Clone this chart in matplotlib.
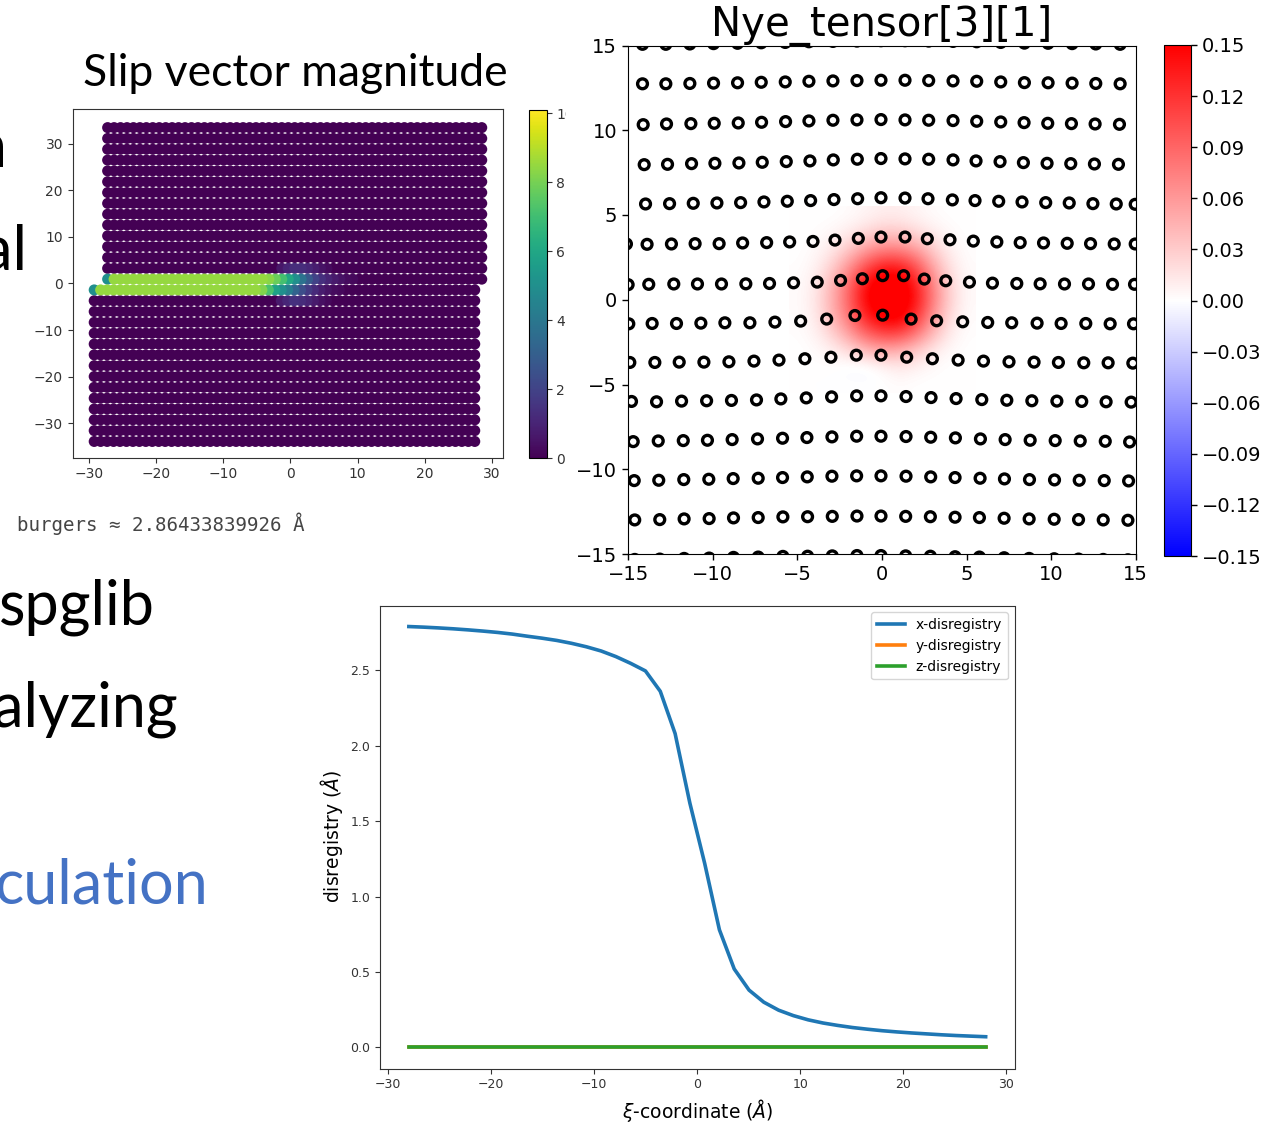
import numpy as np
import matplotlib
matplotlib.use("Agg")
import matplotlib.pyplot as plt
from matplotlib.patches import Rectangle
from matplotlib.cm import ScalarMappable
from matplotlib.colors import Normalize

# ------------------------------------------------------------------
# Slip-vector panel: two half crystals on a rectangular atom grid
# ------------------------------------------------------------------
SLIP_DX = 0.96            # spacing of atom columns
SLIP_DY = 2.32            # spacing of atom rows
SLIP_NROWS = 15
TOP_X_RANGE = (-27.2, 28.5)
TOP_Y_START = 0.93
BOT_X_RANGE = (-29.2, 27.6)
BOT_Y_START = -1.38

# slip magnitude of the atoms just above / below the glide plane (from the left end)
SLIP_UPPER_ROW = [5.0, 8.5, 8.5, 8.5, 8.5, 8.5, 8.5, 8.5, 8.5, 8.5, 8.5, 8.5, 8.5,
                  8.5, 8.5, 8.5, 8.5, 8.5, 8.5, 8.5, 8.5, 8.5, 8.5, 8.5, 8.5,
                  8.3, 7.8, 7.1, 6.0, 5.0, 3.8, 2.8, 2.0, 1.4, 1.0, 0.7, 0.5, 0.3, 0.2]
SLIP_LOWER_ROW = [5.0, 8.5, 8.5, 8.5, 8.5, 8.5, 8.5, 8.5, 8.5, 8.5, 8.5, 8.5, 8.5,
                  8.5, 8.5, 8.5, 8.5, 8.5, 8.5, 8.5, 8.5, 8.5, 8.5, 8.5, 8.5, 8.5,
                  8.2, 7.2, 5.8, 5.0, 4.2, 3.2, 2.4, 1.7, 1.2, 0.8, 0.5, 0.3, 0.2]
# weaker slip on the next rows out, near the dislocation core (start column, values)
SLIP_UPPER_NEXT = (27, [0.6, 1.0, 1.3, 1.3, 1.1, 0.8, 0.5, 0.3])
SLIP_LOWER_NEXT = (29, [0.7, 1.1, 1.4, 1.3, 1.0, 0.7, 0.4, 0.2])
SLIP_CBAR_TICKS = [0, 2, 4, 6, 8, 10]
SLIP_VMAX = 10.1
SLIP_TICKS = [-30, -20, -10, 0, 10, 20, 30]
BURGERS_TEXT = "burgers \u2248 2.86433839926 \u00c5"

# ------------------------------------------------------------------
# Nye tensor panel: atom positions per row (top to bottom)
# ------------------------------------------------------------------
NYE_R1_X = [-14.16, -12.78, -11.36, -9.96, -8.54, -7.14, -5.72, -4.32, -2.90, -1.48, -0.06,
            1.36, 2.76, 4.20, 5.60, 7.02, 8.42, 9.82, 11.24, 12.64, 14.08]
NYE_R0_Y = [15.07, 15.07, 15.09, 15.11, 15.13, 15.16, 15.18, 15.22, 15.24, 15.26, 15.28,
            15.28, 15.26, 15.24, 15.22, 15.18, 15.14, 15.13, 15.11, 15.09, 15.07]
NYE_R1_Y = [12.74, 12.74, 12.76, 12.78, 12.80, 12.83, 12.85, 12.89, 12.91, 12.93, 12.95,
            12.95, 12.93, 12.91, 12.89, 12.85, 12.81, 12.80, 12.78, 12.76, 12.74]
NYE_R2_X = [-14.12, -12.74, -11.30, -9.92, -8.50, -7.12, -5.70, -4.32, -2.90, -1.48, -0.06,
            1.36, 2.76, 4.20, 5.60, 7.02, 8.40, 9.80, 11.20, 12.60, 14.04]
NYE_R2_Y = [10.33, 10.37, 10.39, 10.41, 10.43, 10.47, 10.51, 10.55, 10.59, 10.61, 10.63,
            10.61, 10.59, 10.57, 10.53, 10.49, 10.45, 10.41, 10.39, 10.37, 10.35]
NYE_R3_X = [-14.06, -12.68, -11.26, -9.88, -8.46, -7.08, -5.66, -4.26, -2.88, -1.46, -0.06,
            1.36, 2.76, 4.20, 5.56, 6.98, 8.36, 9.76, 11.16, 12.56, 13.98]
NYE_R3_Y = [7.97, 7.99, 8.03, 8.05, 8.07, 8.11, 8.15, 8.19, 8.25, 8.29, 8.33,
            8.31, 8.29, 8.25, 8.19, 8.15, 8.09, 8.05, 8.03, 8.01, 7.99]
NYE_R4_X = [-13.98, -12.56, -11.16, -9.76, -8.36, -6.98, -5.60, -4.22, -2.84, -1.44, -0.06,
            1.36, 2.72, 4.16, 5.50, 6.90, 8.28, 9.68, 11.07, 12.47, 13.85, 14.97]
NYE_R4_Y = [5.65, 5.67, 5.69, 5.71, 5.73, 5.77, 5.81, 5.85, 5.91, 5.96, 6.02,
            6.00, 5.96, 5.89, 5.85, 5.81, 5.77, 5.73, 5.71, 5.67, 5.65, 5.63]
NYE_R5_X = [-15.11, -13.89, -12.45, -11.05, -9.63, -8.24, -6.82, -5.46, -4.08, -2.78, -1.40,
            -0.06, 1.36, 2.68, 4.02, 5.40, 6.79, 8.17, 9.55, 10.95, 12.33, 13.73, 14.97]
NYE_R5_Y = [3.29, 3.27, 3.29, 3.31, 3.31, 3.35, 3.37, 3.41, 3.44, 3.52, 3.62,
            3.70, 3.70, 3.60, 3.54, 3.46, 3.41, 3.37, 3.35, 3.33, 3.31, 3.29, 3.29]
NYE_R6_X = [-15.01, -13.79, -12.31, -10.91, -9.49, -8.05, -6.65, -5.23, -3.83, -2.45, -1.16,
            0.04, 1.28, 2.50, 3.77, 5.17, 6.53, 7.97, 9.35, 10.79, 12.21, 13.63, 14.93]
NYE_R6_Y = [0.89, 0.91, 0.93, 0.93, 0.93, 0.94, 0.96, 1.00, 1.04, 1.14, 1.24,
            1.42, 1.42, 1.22, 1.12, 1.04, 0.98, 0.96, 0.94, 0.93, 0.93, 0.91, 0.91]
NYE_R7_X = [-14.97, -13.59, -12.15, -10.71, -9.29, -7.81, -6.33, -4.81, -3.27, -1.60, 0.04,
            1.72, 3.23, 4.77, 6.25, 7.67, 9.17, 10.59, 12.05, 13.49, 14.87]
NYE_R7_Y = [-1.42, -1.40, -1.40, -1.38, -1.36, -1.36, -1.32, -1.26, -1.14, -0.93, -0.91,
            -1.14, -1.24, -1.30, -1.34, -1.36, -1.38, -1.40, -1.40, -1.42, -1.42]
NYE_R8_X = [-14.91, -13.43, -11.99, -10.53, -9.05, -7.57, -6.09, -4.56, -3.02, -1.52, -0.06,
            1.46, 2.98, 4.50, 6.00, 7.51, 8.99, 10.43, 11.93, 13.37, 14.83]
NYE_R8_Y = [-3.70, -3.70, -3.68, -3.68, -3.66, -3.62, -3.56, -3.48, -3.39, -3.27, -3.27,
            -3.39, -3.48, -3.56, -3.62, -3.66, -3.68, -3.70, -3.72, -3.72, -3.74]
NYE_R9_X = [-14.81, -13.33, -11.85, -10.37, -8.90, -7.42, -5.98, -4.48, -2.98, -1.50, -0.06,
            1.42, 2.90, 4.38, 5.90, 7.38, 8.86, 10.34, 11.81, 13.25, 14.73]
NYE_R9_Y = [-6.00, -6.02, -5.98, -5.96, -5.94, -5.91, -5.85, -5.79, -5.73, -5.67, -5.67,
            -5.71, -5.77, -5.83, -5.89, -5.93, -5.96, -5.98, -6.00, -6.02, -6.04]
NYE_R10_X = [-14.71, -13.23, -11.75, -10.32, -8.86, -7.36, -5.88, -4.44, -2.96, -1.50, -0.06,
             1.42, 2.88, 4.34, 5.82, 7.28, 8.76, 10.24, 11.72, 13.20, 14.64]
NYE_R10_Y = [-8.37, -8.33, -8.31, -8.29, -8.25, -8.21, -8.17, -8.13, -8.09, -8.05, -8.05,
             -8.07, -8.11, -8.15, -8.21, -8.25, -8.29, -8.31, -8.33, -8.35, -8.39]
NYE_R11_X = [-14.65, -13.20, -11.72, -10.24, -8.80, -7.32, -5.88, -4.42, -2.96, -1.50, -0.06,
             1.42, 2.88, 4.32, 5.80, 7.24, 8.72, 10.20, 11.66, 13.14, 14.58]
NYE_R11_Y = [-10.67, -10.65, -10.61, -10.59, -10.55, -10.53, -10.49, -10.45, -10.41, -10.39, -10.39,
             -10.41, -10.45, -10.49, -10.53, -10.57, -10.61, -10.63, -10.65, -10.67, -10.69]
NYE_R12_X = [-14.62, -13.14, -11.70, -10.22, -8.78, -7.32, -5.86, -4.40, -2.94, -1.48, -0.06,
             1.40, 2.86, 4.32, 5.76, 7.22, 8.70, 10.18, 11.62, 13.08, 14.54]
NYE_R12_Y = [-12.99, -12.97, -12.93, -12.91, -12.87, -12.85, -12.81, -12.80, -12.78, -12.76, -12.76,
             -12.78, -12.80, -12.83, -12.85, -12.89, -12.93, -12.95, -12.97, -12.99, -13.01]
NYE_R13_Y = [-15.32, -15.30, -15.26, -15.24, -15.20, -15.18, -15.14, -15.13, -15.11, -15.09, -15.09,
             -15.11, -15.13, -15.16, -15.18, -15.22, -15.26, -15.28, -15.30, -15.32, -15.34]

# Nye tensor component on a coarse grid (x, y = -5..5), rows from y=-5 upward
NYE_GRID_COORDS = [-5, -4, -3, -2, -1, 0, 1, 2, 3, 4, 5]
NYE_GRID = [
    [0, 0, 0, 0, 0, 0, 0.002, 0, 0, 0, 0],
    [0, 0, 0, -0.004, -0.006, 0.003, 0.012, 0.007, 0.002, 0, 0],
    [0, 0.002, 0.008, 0.02, 0.04, 0.05, 0.045, 0.03, 0.012, 0.003, 0],
    [0.001, 0.006, 0.025, 0.055, 0.09, 0.11, 0.11, 0.08, 0.04, 0.01, 0.001],
    [0.002, 0.01, 0.04, 0.08, 0.13, 0.16, 0.16, 0.12, 0.06, 0.018, 0.002],
    [0.002, 0.012, 0.045, 0.09, 0.15, 0.17, 0.17, 0.14, 0.075, 0.025, 0.003],
    [0.002, 0.01, 0.04, 0.085, 0.14, 0.17, 0.17, 0.13, 0.07, 0.022, 0.003],
    [0.001, 0.006, 0.025, 0.06, 0.10, 0.13, 0.13, 0.10, 0.05, 0.015, 0.002],
    [0, 0.003, 0.012, 0.03, 0.055, 0.07, 0.07, 0.055, 0.028, 0.008, 0.001],
    [0, 0.001, 0.004, 0.01, 0.02, 0.03, 0.03, 0.02, 0.01, 0.003, 0],
    [0, 0, 0, 0.002, 0.006, 0.01, 0.01, 0.006, 0.002, 0, 0],
]
NYE_LIM = 0.15
NYE_CBAR_TICKS = [-0.15, -0.12, -0.09, -0.06, -0.03, 0.00, 0.03, 0.06, 0.09, 0.12, 0.15]
NYE_TICKS = [-15, -10, -5, 0, 5, 10, 15]

# ------------------------------------------------------------------
# Disregistry along the glide plane
# ------------------------------------------------------------------
XI = [-28.00, -26.56, -25.13, -23.69, -22.26, -20.82, -19.38, -17.95, -16.51, -15.08,
      -13.64, -12.21, -10.77, -9.33, -7.90, -6.46, -5.03, -3.59, -2.15, -0.72,
      0.72, 2.15, 3.59, 5.03, 6.46, 7.90, 9.33, 10.77, 12.21, 13.64,
      15.08, 16.51, 17.95, 19.38, 20.82, 22.26, 23.69, 25.13, 26.56, 28.00]
DISREG_X = [2.789, 2.785, 2.780, 2.774, 2.767, 2.759, 2.750, 2.739, 2.725, 2.712,
            2.697, 2.678, 2.655, 2.627, 2.590, 2.545, 2.495, 2.360, 2.080, 1.620,
            1.220, 0.780, 0.520, 0.380, 0.300, 0.247, 0.211, 0.183, 0.162, 0.146,
            0.132, 0.121, 0.111, 0.103, 0.096, 0.090, 0.084, 0.079, 0.075, 0.071]
DISREG_Y = [0.0] * len(XI)
DISREG_Z = [0.0] * len(XI)

# ------------------------------------------------------------------
W, H = 1273, 1125
fig = plt.figure(figsize=(W / 100, H / 100), dpi=100)
fig.patch.set_facecolor("white")
plt.rcParams["font.family"] = ["DejaVu Sans"]
SLIDE_FONT = ["Lato", "DejaVu Sans"]


def px_rect(x0, y0, x1, y1):
    return [x0 / W, 1 - y1 / H, (x1 - x0) / W, (y1 - y0) / H]


def fx(x):
    return x / W


def fy(y):
    return 1 - y / H


# ---- slide body text (lines run off the left edge) ----
for txt, xr, yb, col in [("n", 7, 167, "black"), ("al", 27, 270, "black"),
                         ("spglib", 155, 625, "black"), ("alyzing", 178, 727, "black"),
                         ("culation", 208, 903, "#4472C4")]:
    fig.text(fx(xr), fy(yb), txt, ha="right", va="baseline", fontsize=44,
             family=SLIDE_FONT, color=col)

# ---- slip vector magnitude ----
ax1 = fig.add_axes(px_rect(72.7, 109, 502.7, 457.5))
xs, ys, vals = [], [], []
for (x0, x1), y0, step, special in [
        (TOP_X_RANGE, TOP_Y_START, SLIP_DY, [(0, 0, SLIP_UPPER_ROW), (1,) + SLIP_UPPER_NEXT]),
        (BOT_X_RANGE, BOT_Y_START, -SLIP_DY, [(0, 0, SLIP_LOWER_ROW), (1,) + SLIP_LOWER_NEXT])]:
    ncol = int(round((x1 - x0) / SLIP_DX)) + 1
    cols = x0 + SLIP_DX * np.arange(ncol)
    for r in range(SLIP_NROWS):
        row_vals = np.zeros(ncol)
        for rr, start, v in special:
            if rr == r:
                row_vals[start:start + len(v)] = v
        xs.extend(cols)
        ys.extend([y0 + r * step] * ncol)
        vals.extend(row_vals)
xs, ys, vals = np.array(xs), np.array(ys), np.array(vals)
order = np.argsort(vals, kind="stable")
ax1.scatter(xs[order], ys[order], c=vals[order], cmap="viridis", vmin=0, vmax=SLIP_VMAX,
            s=63, linewidths=0)
ax1.set_xlim(-32.4, 31.6)
ax1.set_ylim(-37.3, 37.4)
ax1.set_xticks(SLIP_TICKS)
ax1.set_yticks(SLIP_TICKS)
ax1.tick_params(labelsize=10, length=3.5, width=0.8, colors="#333333")
for sp in ax1.spines.values():
    sp.set_linewidth(0.8)
    sp.set_color("#333333")

cax1 = fig.add_axes(px_rect(529.3, 110, 546.7, 458.3))
cb1 = fig.colorbar(ScalarMappable(Normalize(0, SLIP_VMAX), "viridis"), cax=cax1,
                   ticks=SLIP_CBAR_TICKS)
cb1.ax.tick_params(labelsize=10, length=3.5, width=0.8, colors="#333333")
cb1.outline.set_linewidth(0.8)

fig.text(fx(295.5), fy(86), "Slip vector magnitude", ha="center", va="baseline",
         fontsize=32, family=SLIDE_FONT)
fig.text(fx(17), fy(531), BURGERS_TEXT, ha="left", va="baseline", fontsize=13.8,
         family="DejaVu Sans Mono", color="#454545")

# the right-hand image sits over the end of these colorbar labels
fig.patches.append(Rectangle((fx(565.5), fy(590)), fx(627) - fx(565.5), fy(95) - fy(590),
                             transform=fig.transFigure, facecolor="white",
                             edgecolor="none", zorder=0.5))

# ---- Nye tensor ----
ax2 = fig.add_axes(px_rect(628.3, 45.5, 1135.7, 554), zorder=1)
g = np.array(NYE_GRID)
d = 0.5 * (NYE_GRID_COORDS[1] - NYE_GRID_COORDS[0])
ax2.imshow(g, origin="lower", cmap="bwr", vmin=-NYE_LIM, vmax=NYE_LIM,
           interpolation="bicubic",
           extent=(NYE_GRID_COORDS[0] - d, NYE_GRID_COORDS[-1] + d,
                   NYE_GRID_COORDS[0] - d, NYE_GRID_COORDS[-1] + d), zorder=1)
rows = [(NYE_R1_X, NYE_R0_Y), (NYE_R1_X, NYE_R1_Y), (NYE_R2_X, NYE_R2_Y),
        (NYE_R3_X, NYE_R3_Y), (NYE_R4_X, NYE_R4_Y), (NYE_R5_X, NYE_R5_Y),
        (NYE_R6_X, NYE_R6_Y), (NYE_R7_X, NYE_R7_Y), (NYE_R8_X, NYE_R8_Y),
        (NYE_R9_X, NYE_R9_Y), (NYE_R10_X, NYE_R10_Y), (NYE_R11_X, NYE_R11_Y),
        (NYE_R12_X, NYE_R12_Y), (NYE_R12_X, NYE_R13_Y)]
for rx, ry in rows:
    ax2.scatter(rx, ry, s=50, facecolors="none", edgecolors="black", linewidths=2.4,
                zorder=3)
ax2.set_xlim(-15, 15)
ax2.set_ylim(-15, 15)
ax2.set_aspect("auto")
ax2.set_xticks(NYE_TICKS)
ax2.set_yticks(NYE_TICKS)
ax2.tick_params(labelsize=14, length=4.5, width=1)
ax2.set_title("Nye_tensor[3][1]", fontsize=29, pad=5)

cax2 = fig.add_axes(px_rect(1164.3, 45, 1191, 556), zorder=1)
cb2 = fig.colorbar(ScalarMappable(Normalize(-NYE_LIM, NYE_LIM), "bwr"), cax=cax2,
                   ticks=NYE_CBAR_TICKS)
cb2.ax.set_yticklabels([f"{t:.2f}".replace("-", "\u2212") for t in NYE_CBAR_TICKS])
cb2.ax.tick_params(labelsize=14, length=4.5, width=1)

# ---- disregistry ----
ax3 = fig.add_axes(px_rect(380, 605.5, 1014.5, 1068.5))
ax3.plot(XI, DISREG_X, color="C0", lw=2.6, label="x-disregistry")
ax3.plot(XI, DISREG_Y, color="C1", lw=2.6, label="y-disregistry")
ax3.plot(XI, DISREG_Z, color="C2", lw=2.6, label="z-disregistry")
ax3.set_xlabel(r"$\xi$-coordinate ($\AA$)", fontsize=13.5)
ax3.set_ylabel(r"disregistry ($\AA$)", fontsize=13.5)
ax3.tick_params(labelsize=9, colors="#333333")
for sp in ax3.spines.values():
    sp.set_color("#333333")
ax3.legend(loc="upper right", fontsize=10)

fig.savefig("out.png", dpi=100)
